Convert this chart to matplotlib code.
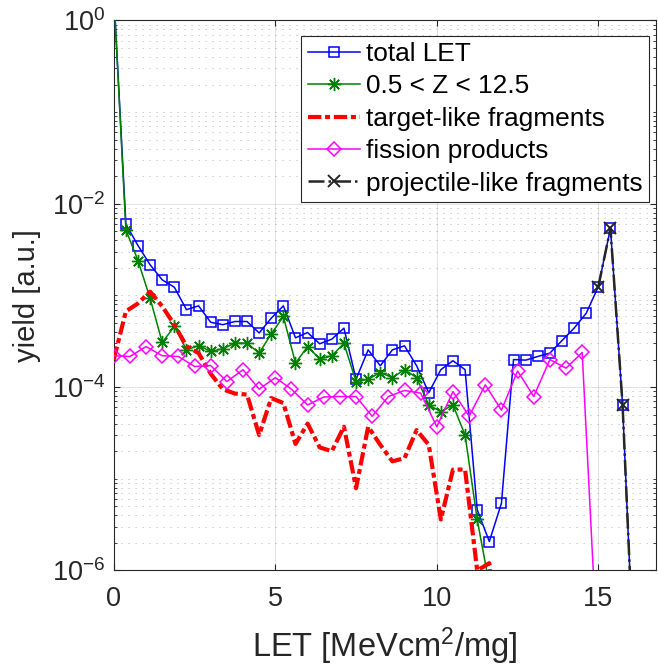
import matplotlib

matplotlib.use("Agg")
import matplotlib.pyplot as plt
import numpy as np
from matplotlib.ticker import FixedLocator, LogLocator, NullFormatter

plt.rcParams["font.family"] = ["Liberation Sans", "DejaVu Sans"]
plt.rcParams["mathtext.fontset"] = "custom"
plt.rcParams["mathtext.rm"] = "Liberation Sans"
plt.rcParams["mathtext.it"] = "Liberation Sans:italic"
plt.rcParams["mathtext.bf"] = "Liberation Sans:bold"

# LET bin widths [MeVcm2/mg]
let_bin = 0.375
fission_bin = 0.5

total_let = [2.0, 6.0e-3, 3.5e-3, 2.16e-3, 1.48e-3, 1.23e-3, 7.0e-4, 7.7e-4,
             5.1e-4, 4.8e-4, 5.2e-4, 5.2e-4, 3.9e-4, 5.65e-4, 7.7e-4, 3.45e-4,
             3.94e-4, 2.97e-4, 3.34e-4, 4.4e-4, 1.22e-4, 2.55e-4, 1.71e-4, 2.55e-4,
             2.82e-4, 1.71e-4, 8.7e-5, 1.55e-4, 1.94e-4, 1.55e-4, 4.6e-6, 2.07e-6,
             5.4e-6, 2.0e-4, 1.97e-4, 2.16e-4, 2.35e-4, 3.22e-4, 4.4e-4, 6.4e-4,
             1.25e-3, 5.4e-3, 6.4e-5, 6e-8]
light_ions = [2.0, 5.2e-3, 2.4e-3, 9.3e-4, 3.07e-4, 4.6e-4, 2.55e-4, 2.84e-4,
              2.45e-4, 2.62e-4, 3.02e-4, 3.02e-4, 2.35e-4, 3.81e-4, 5.9e-4, 1.83e-4,
              2.77e-4, 2.03e-4, 2.2e-4, 3.0e-4, 1.15e-4, 1.22e-4, 1.44e-4, 1.27e-4,
              1.55e-4, 1.27e-4, 6.4e-5, 5.4e-5, 6.4e-5, 3.0e-5, 3.6e-6, 7e-7]
target_like = [2.0e-4, 6.7e-4, 8.2e-4, 1.1e-3, 7.6e-4, 4.8e-4, 2.8e-4, 2.35e-4,
               1.4e-4, 9.5e-5, 8.5e-5, 8.3e-5, 3.0e-5, 7.6e-5, 6.7e-5, 2.4e-5,
               4.0e-5, 2.2e-5, 2.0e-5, 3.7e-5, 7.9e-6, 3.7e-5, 2.35e-5, 1.55e-5,
               1.68e-5, 3.4e-5, 2.35e-5, 3.6e-6, 1.26e-5, 1.26e-5, 1.0e-6, 1.2e-6,
               1e-8]
fission = [2.2e-4, 2.16e-4, 2.77e-4, 2.2e-4, 2.16e-4, 1.68e-4, 1.72e-4, 1.15e-4,
           1.55e-4, 9.5e-5, 1.27e-4, 9.5e-5, 6.4e-5, 7.8e-5, 7.9e-5, 7.9e-5,
           4.8e-5, 7.9e-5, 9.2e-5, 8.6e-5, 3.7e-5, 8.95e-5, 4.8e-5, 1.06e-4,
           5.6e-5, 1.5e-4, 7.9e-5, 2.0e-4, 1.61e-4, 2.39e-4, 8e-8]
projectile_first_bin = 40
projectile_like = [1.25e-3, 5.4e-3, 6.4e-5, 6e-8]

x_total = np.arange(len(total_let)) * let_bin
x_light = np.arange(len(light_ions)) * let_bin
x_target = np.arange(len(target_like)) * let_bin
x_fission = np.arange(len(fission)) * fission_bin
x_proj = (projectile_first_bin + np.arange(len(projectile_like))) * let_bin

fig = plt.figure(figsize=(6.58, 6.68), dpi=100)
ax = fig.add_axes([0.1729, 0.146, 0.8248, 0.8234])
ax.set_yscale("log")

ax.plot(x_total, total_let, "-s", color="#0000ff", lw=1.1, ms=7, mfc="none", mew=1.1,
        label="total LET", zorder=3)
ax.plot(x_light, light_ions, "-", marker=(8, 2, 0), color=(0, 0.5, 0), lw=1.1, ms=9.5,
        mew=1.0, label="0.5 < Z < 12.5", zorder=3)
ax.plot(x_target, target_like, color="#ff0000", lw=3.0, ls=(0, (3.2, 0.9, 1.2, 0.9)),
        label="target-like fragments", zorder=3)
ax.plot(x_fission, fission, "-D", color="#ff00ff", lw=1.1, ms=7, mfc="none", mew=1.1,
        label="fission products", zorder=3)
ax.plot(x_proj, projectile_like, "x", ls="-.", color="0.15", lw=1.8, ms=8, mew=1.4,
        label="projectile-like fragments", zorder=4)

ax.set_xlim(0, 16.8)
ax.set_ylim(1e-6, 1)
ax.set_xticks([0, 5, 10, 15])
ax.yaxis.set_major_locator(FixedLocator([1e-6, 1e-4, 1e-2, 1]))
ax.set_yticklabels([r"$10^{-6}$", r"$10^{-4}$", r"$10^{-2}$", r"$10^{0}$"])
ax.yaxis.set_minor_locator(LogLocator(base=10, subs=np.arange(1, 10), numticks=20))
ax.yaxis.set_minor_formatter(NullFormatter())

ax.tick_params(which="both", direction="in", top=True, right=True, colors="0.15",
               labelsize=19.5)
ax.tick_params(which="major", length=4, width=0.8)
ax.tick_params(which="minor", length=2.2, width=0.6)
ax.tick_params(axis="x", pad=11)
ax.tick_params(axis="y", pad=6)

ax.grid(True, which="major", color="0.15", alpha=0.15, lw=0.6)
ax.grid(True, which="minor", axis="y", color="0.15", alpha=0.3, lw=0.7,
        ls=(0, (1.2, 6)))
for s in ax.spines.values():
    s.set_color("0.15")
    s.set_linewidth(0.8)

ax.set_xlabel("LET [MeVcm$^2$/mg]", fontsize=23.5, color="0.15", labelpad=10)
ax.set_ylabel("yield [a.u.]", fontsize=21, color="0.15", labelpad=8)

leg = ax.legend(loc="upper right", bbox_to_anchor=(0.9863, 0.9466),
                bbox_transform=fig.transFigure, borderaxespad=0, fontsize=18.9,
                fancybox=False, framealpha=1, edgecolor="0.15", handlelength=2.0,
                handletextpad=0.22, labelspacing=0.32, borderpad=0.24)
leg.get_frame().set_linewidth(0.8)

fig.savefig("out.png", dpi=100)
plt.close(fig)
